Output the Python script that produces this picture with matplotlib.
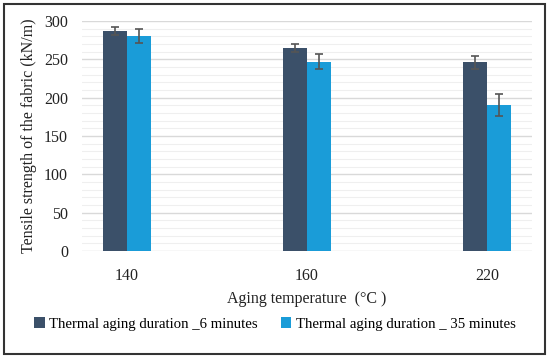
import matplotlib
matplotlib.use("Agg")
import matplotlib.pyplot as plt
import numpy as np
from matplotlib.patches import Rectangle

categories = ["140", "160", "220"]
series_names = ["Thermal aging duration _6 minutes", "Thermal aging duration _ 35 minutes"]
values_6min = [287, 265, 246]
err_6min = [5, 5.5, 8]
values_35min = [280, 247, 190]
err_35min = [9, 9.7, 14.5]
colors = ["#3b5069", "#1a9cd8"]

plt.rcParams["font.family"] = ["Liberation Serif", "DejaVu Serif"]

fig = plt.figure(figsize=(5.5, 3.6), dpi=100)
ax = fig.add_axes([82/550, 1-251/360, 450/550, 230/360])

x = np.arange(len(categories))
w = 0.133
ax.bar(x - w/2, values_6min, width=w, color=colors[0], label=series_names[0], zorder=3,
       yerr=err_6min, error_kw=dict(ecolor="#555555", elinewidth=1.2, capsize=3, capthick=1.2))
ax.bar(x + w/2, values_35min, width=w, color=colors[1], label=series_names[1], zorder=3,
       yerr=err_35min, error_kw=dict(ecolor="#555555", elinewidth=1.2, capsize=3, capthick=1.2))

ax.set_xlim(-0.25, 2.25)
ax.set_ylim(0, 300)
ax.set_yticks(np.arange(0, 301, 50))
ax.set_yticks(np.arange(0, 301, 10), minor=True)
ax.grid(axis="y", which="major", color="#d9d9d9", linewidth=1.0, zorder=0)
ax.grid(axis="y", which="minor", color="#efefef", linewidth=0.8, zorder=0)
ax.set_xticks(x)
ax.set_xticklabels(categories)
ax.tick_params(axis="both", which="both", length=0, labelsize=11.5, colors="#222222")
ax.tick_params(axis="x", pad=12)
ax.tick_params(axis="y", pad=10)
for s in ax.spines.values():
    s.set_visible(False)
ax.set_xlabel("Aging temperature  (°C )", fontsize=11.5, labelpad=5, color="#222222")
ax.set_ylabel("Tensile strength of the fabric (kN/m)", fontsize=11.5, labelpad=5, color="#222222")

fig.legend(loc="center", bbox_to_anchor=(0.5, 1-324/360), ncol=2, frameon=False,
           fontsize=10.6, handlelength=0.7, handleheight=0.7, handletextpad=0.3, columnspacing=1.6)

fig.patches.append(Rectangle((4/550, 1-354/360), 541/550, 350/360, transform=fig.transFigure,
                             fill=False, edgecolor="#333333", linewidth=1.5))

fig.savefig("out.png", dpi=100)
